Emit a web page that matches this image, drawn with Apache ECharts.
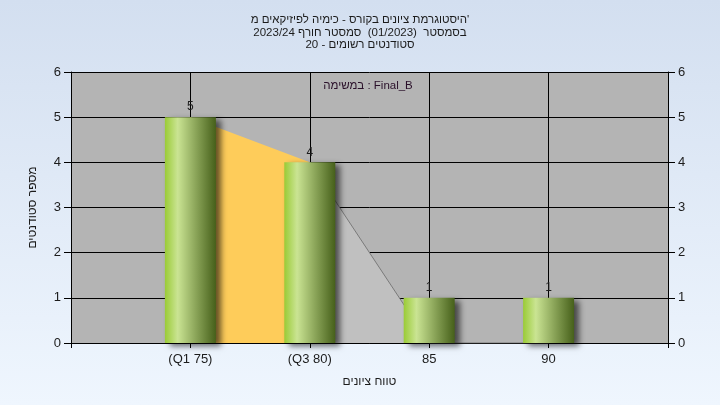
<!DOCTYPE html>
<html>
<head>
<meta charset="utf-8">
<script src="https://cdn.jsdelivr.net/npm/echarts@6/dist/echarts.min.js"></script>
<style>html,body{margin:0;padding:0;}#c{width:720px;height:405px;}</style>
</head>
<body>
<div id="c"></div>
<script>
const titleLines = [
  "היסטוגרמת ציונים בקורס - כימיה לפיזיקאים מ'",
  "בסמסטר  (01/2023)  סמסטר חורף 2023/24",
  "סטודנטים רשומים - 20"
];
const taskLabel = "במשימה : Final_B";
const xAxisName = "טווח ציונים";
const yAxisName = "מספר סטודנטים";
const categories = ['', '(Q1 75)', '(Q3 80)', '85', '90', ''];
const counts = [null, 5, 4, 1, 1, null];
const iqrCurve = [null, 5, 4, null, null, null];
const tailCurve = [null, null, 4, 0, 0, null];
const yTicks = { min: 0, max: 6, interval: 1 };

const FONT = "'Liberation Sans', 'DejaVu Sans', Arial, sans-serif";
const TXT = '#1c1c1c';

const chart = echarts.init(document.getElementById('c'), null, { renderer: 'canvas' });
const yAxisCommon = {
  type: 'value', min: yTicks.min, max: yTicks.max, interval: yTicks.interval,
  axisLine: { show: true, lineStyle: { color: '#000', width: 1 } },
  axisTick: { show: true, length: 7, lineStyle: { color: '#000' } },
  axisLabel: { color: TXT, fontSize: 13, fontFamily: FONT, margin: 10 }
};
chart.setOption({
  backgroundColor: {
    type: 'linear', x: 0, y: 0, x2: 0, y2: 1,
    colorStops: [{ offset: 0, color: '#D3DFF0' }, { offset: 1, color: '#EFF6FE' }]
  },
  animation: false,
  textStyle: { fontFamily: FONT },
  title: {
    text: titleLines.join('\n'),
    left: 'center', top: 9,
    textStyle: { fontSize: 11.5, fontWeight: 'normal', color: TXT, fontFamily: FONT, lineHeight: 12.5 }
  },
  graphic: [{
    type: 'text', x: 368, y: 86,
    style: { text: taskLabel, fill: '#2a102a', fontSize: 11.5, fontFamily: FONT, align: 'center', verticalAlign: 'middle' }
  }],
  grid: { left: 71, right: 52, top: 72, bottom: 62, show: true, backgroundColor: '#B4B4B4', borderWidth: 0 },
  xAxis: {
    type: 'category', data: categories, boundaryGap: false,
    name: xAxisName, nameLocation: 'middle', nameGap: 33,
    nameTextStyle: { color: TXT, fontSize: 12, fontFamily: FONT },
    axisLine: { show: true, lineStyle: { color: '#000', width: 1 } },
    axisTick: { show: true, length: 5, alignWithLabel: true, interval: 0, lineStyle: { color: '#000' } },
    axisLabel: { color: TXT, fontSize: 13, fontFamily: FONT, margin: 10, interval: 0 },
    splitLine: { show: true, interval: 0, lineStyle: { color: '#000', width: 1 } }
  },
  yAxis: [
    Object.assign({}, yAxisCommon, {
      position: 'left',
      name: yAxisName, nameLocation: 'middle', nameGap: 32, nameRotate: 90,
      nameTextStyle: { color: TXT, fontSize: 12, fontFamily: FONT },
      splitLine: { show: true, lineStyle: { color: '#000', width: 1 } }
    }),
    Object.assign({}, yAxisCommon, {
      position: 'right',
      splitLine: { show: false }
    })
  ],
  series: [
    {
      type: 'line', data: iqrCurve, z: 1, symbol: 'none', connectNulls: false,
      lineStyle: { width: 0, color: '#FECC5A' },
      areaStyle: { color: '#FECC5A', opacity: 1 }
    },
    {
      type: 'line', data: tailCurve, z: 1, symbol: 'none', connectNulls: false,
      lineStyle: { width: 1, color: '#7a7a7a' },
      areaStyle: { color: '#C0C0C0', opacity: 1 }
    },
    {
      type: 'bar', data: counts, barWidth: 51, z: 3,
      itemStyle: {
        color: {
          type: 'linear', x: 0, y: 0, x2: 1, y2: 0,
          colorStops: [
            { offset: 0, color: '#9ACB36' },
            { offset: 0.25, color: '#CAE493' },
            { offset: 0.6, color: '#8CA65A' },
            { offset: 1, color: '#46601A' }
          ]
        },
        shadowColor: 'rgba(0,0,0,0.6)', shadowBlur: 6, shadowOffsetX: 5, shadowOffsetY: 3
      },
      label: { show: true, position: 'top', distance: 4, color: TXT, fontSize: 12, fontFamily: FONT }
    }
  ]
});
</script>
</body>
</html>
